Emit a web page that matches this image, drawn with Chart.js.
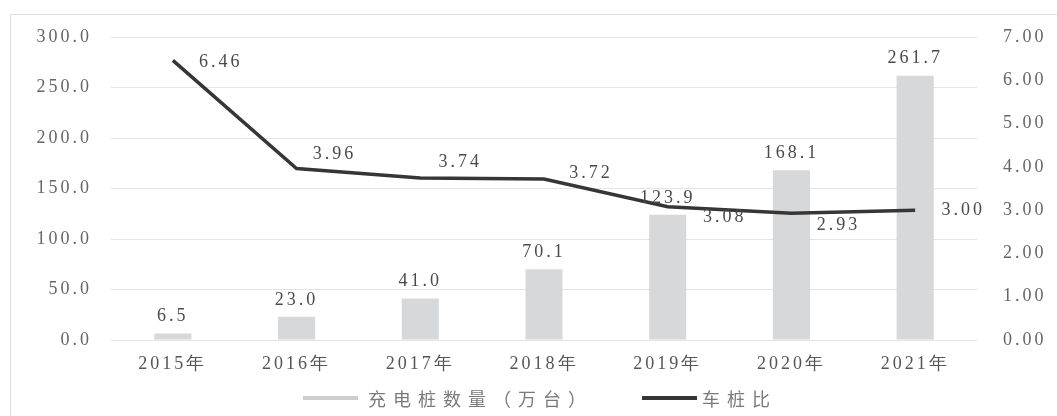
<!DOCTYPE html>
<html>
<head>
<meta charset="utf-8">
<script src="https://cdn.jsdelivr.net/npm/chart.js@4"></script>
<style>
  body { margin: 0; background: #fff; }
  #wrap { position: relative; width: 1057px; height: 416px; overflow: hidden; }
  #frame {
    position: absolute; left: 10px; top: 14px; right: -4px; bottom: -4px;
    border: 1px solid #dedede;
  }
  canvas { position: absolute; left: 0; top: 0; }
  #legend {
    position: absolute; top: 386px; left: 0; width: 1057px; height: 24px;
    font-family: "Noto Sans CJK SC", sans-serif; font-size: 18px;
    color: #7a7a7a; letter-spacing: 7px;
  }
  .item { position: absolute; top: 0; line-height: 24px; white-space: nowrap; }
  .swatch { position: absolute; top: 10px; width: 55px; height: 4px; }
</style>
</head>
<body>
<div id="wrap">
  <div id="frame"></div>
  <canvas id="chart" width="1057" height="416"></canvas>
  <div id="legend">
    <div class="swatch" style="left:303px;background:#cbcdce"></div>
    <div class="item" style="left:368px">充电桩数量（万台）</div>
    <div class="swatch" style="left:642px;background:#363636"></div>
    <div class="item" style="left:702px">车桩比</div>
  </div>
</div>
<script>
// years on the x axis
const years = ["2015年", "2016年", "2017年", "2018年", "2019年", "2020年", "2021年"];
// charging piles, 10k units (left axis)
const chargerCount = [6.5, 23.0, 41.0, 70.1, 123.9, 168.1, 261.7];
// vehicle-to-charger ratio (right axis)
const carChargerRatio = [6.46, 3.96, 3.74, 3.72, 3.08, 2.93, 3.00];

// where each ratio label sits relative to its point
const ratioLabelOffset = [[48, 2], [38, -14], [40, -16], [47, -6], [57, 11], [47, 12], [48, 0]];

const FONT = "Liberation Serif";
const LETTER_GAP = "3px";

// wider text, the labels are spaced out
const spacing = {
  id: "spacing",
  beforeUpdate(chart) { chart.ctx.letterSpacing = LETTER_GAP; },
  beforeDraw(chart) { chart.ctx.letterSpacing = LETTER_GAP; }
};

// value labels on bars and line points
const valueLabels = {
  id: "valueLabels",
  afterDatasetsDraw(chart) {
    const ctx = chart.ctx;
    ctx.save();
    ctx.letterSpacing = LETTER_GAP;
    ctx.font = "18px '" + FONT + "'";
    ctx.fillStyle = "#4a4a4a";
    ctx.textAlign = "center";
    ctx.textBaseline = "middle";
    chart.getDatasetMeta(0).data.forEach((bar, i) => {
      ctx.fillText(chargerCount[i].toFixed(1), bar.x, bar.y - 17);
    });
    chart.getDatasetMeta(1).data.forEach((pt, i) => {
      const off = ratioLabelOffset[i];
      ctx.fillText(carChargerRatio[i].toFixed(2), pt.x + off[0], pt.y + off[1]);
    });
    ctx.restore();
  }
};

new Chart(document.getElementById("chart"), {
  data: {
    labels: years,
    datasets: [
      {
        type: "bar",
        label: "充电桩数量（万台）",
        data: chargerCount,
        backgroundColor: "#d6d8d9",
        barPercentage: 0.3,
        categoryPercentage: 1,
        yAxisID: "y",
        order: 2
      },
      {
        type: "line",
        label: "车桩比",
        data: carChargerRatio,
        borderColor: "#363636",
        borderWidth: 3.5,
        borderJoinStyle: "miter",
        pointRadius: 0,
        tension: 0,
        yAxisID: "y1",
        order: 1
      }
    ]
  },
  options: {
    responsive: false,
    animation: false,
    layout: { padding: { top: 37, left: 0, right: 0, bottom: 0 } },
    plugins: {
      legend: { display: false },
      tooltip: { enabled: false }
    },
    scales: {
      x: {
        grid: { display: false },
        border: { display: false },
        ticks: {
          color: "#555",
          padding: 5,
          font: { family: FONT, size: 18 }
        },
        afterFit(scale) { scale.height = 76; }
      },
      y: {
        position: "left",
        min: 0,
        max: 300,
        grid: { color: "#e4e4e4", drawTicks: false },
        border: { display: false },
        ticks: {
          stepSize: 50,
          color: "#666",
          padding: 19,
          font: { family: FONT, size: 18 },
          callback: (v) => v.toFixed(1)
        },
        afterFit(scale) { scale.width = 111; }
      },
      y1: {
        position: "right",
        min: 0,
        max: 7,
        grid: { display: false, drawTicks: false },
        border: { display: false },
        ticks: {
          stepSize: 1,
          color: "#666",
          padding: 26,
          font: { family: FONT, size: 18 },
          callback: (v) => v.toFixed(2)
        },
        afterFit(scale) { scale.width = 80; }
      }
    }
  },
  plugins: [spacing, valueLabels]
});
</script>
</body>
</html>
